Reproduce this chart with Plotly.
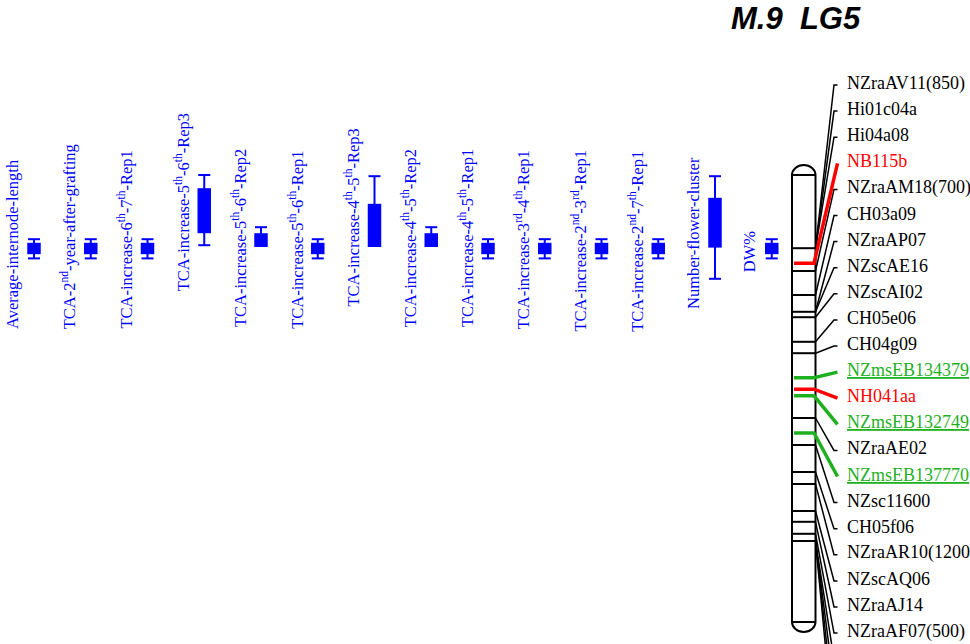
import plotly.graph_objects as go

# ---------------- data ----------------
chart_title = "M.9\u00a0\u00a0LG5"

trait_names = [
    "Average-internode-length",
    "TCA-2<sup>nd</sup>-year-after-grafting",
    "TCA-increase-6<sup>th</sup>-7<sup>th</sup>-Rep1",
    "TCA-increase-5<sup>th</sup>-6<sup>th</sup>-Rep3",
    "TCA-increase-5<sup>th</sup>-6<sup>th</sup>-Rep2",
    "TCA-increase-5<sup>th</sup>-6<sup>th</sup>-Rep1",
    "TCA-increase-4<sup>th</sup>-5<sup>th</sup>-Rep3",
    "TCA-increase-4<sup>th</sup>-5<sup>th</sup>-Rep2",
    "TCA-increase-4<sup>th</sup>-5<sup>th</sup>-Rep1",
    "TCA-increase-3<sup>rd</sup>-4<sup>th</sup>-Rep1",
    "TCA-increase-2<sup>nd</sup>-3<sup>rd</sup>-Rep1",
    "TCA-increase-2<sup>nd</sup>-7<sup>th</sup>-Rep1",
    "Number-flower-cluster",
    "DW%",
]
# QTL intervals (cM): outer = whiskers, inner = filled box
qtl_outer_start = [10.7, 10.7, 10.7, 0.0, 8.7, 10.7, 0.2, 8.7, 10.7, 10.7, 10.7, 10.7, 0.2, 10.7]
qtl_inner_start = [11.3, 11.3, 11.3, 2.2, 9.7, 11.3, 4.8, 9.7, 11.3, 11.3, 11.3, 11.3, 3.8, 11.3]
qtl_inner_end = [13.2, 13.2, 13.2, 9.7, 12.0, 13.2, 12.0, 12.0, 13.2, 13.2, 13.2, 13.2, 12.1, 13.2]
qtl_outer_end = [13.9, 13.9, 13.9, 11.7, 12.0, 13.9, 12.0, 12.0, 13.9, 13.9, 13.9, 13.9, 17.3, 13.9]

marker_names = [
    "NZraAV11(850)", "Hi01c04a", "Hi04a08", "NB115b", "NZraAM18(700)",
    "CH03a09", "NZraAP07", "NZscAE16", "NZscAI02", "CH05e06", "CH04g09",
    "NZmsEB134379", "NH041aa", "NZmsEB132749", "NZraAE02", "NZmsEB137770",
    "NZsc11600", "CH05f06", "NZraAR10(1200)", "NZscAQ06", "NZraAJ14",
    "NZraAF07(500)",
]
marker_cm = [12.2, 12.2, 12.2, 14.7, 16.0, 20.0, 22.8, 22.8, 23.7, 27.8, 29.7,
             33.8, 35.7, 36.8, 40.5, 43.0, 45.0, 49.5, 51.5, 56.0, 57.8, 59.8]
marker_kind = ["plain", "plain", "plain", "red", "plain", "plain", "plain", "plain",
               "plain", "plain", "plain", "green", "red", "green", "plain", "green",
               "plain", "plain", "plain", "plain", "plain", "plain"]
# markers whose labels fall below the visible area (only their connectors show)
offscreen_marker_cm = [61.0, 61.0, 61.0, 61.0]

chrom_length_cm = 74.5

# ---------------- layout / style ----------------
W, H = 970, 644
PX_PER_CM = 6.0
CHROM_TOP_PX = 175.0


def cm_from_px(py):
    return (py - CHROM_TOP_PX) / PX_PER_CM


def dcm(dpx):
    return dpx / PX_PER_CM


BLUE = "#0000ff"
RED = "#ff0000"
GREEN = "#1fb01f"
kind_color = {"plain": "black", "red": RED, "green": GREEN}

CH_L, CH_R = 792.0, 815.5
CAP_PX = 10.0
QTL_X0, QTL_DX = 34.0, 56.75
LABEL_X_OFF = -22.0
trait_label_bottom_px = [330, 330, 330, 292, 328, 330, 308, 328, 328, 330, 333, 333, 310, 273]
LABEL_Y0_PX, LABEL_DY_PX = 85.0, 26.1

shapes = []
annotations = []
traces = []

# ---- chromosome outline ----
cx = (CH_L + CH_R) / 2
rx = (CH_R - CH_L) / 2
k = 0.5523
h = dcm(CAP_PX)
L = chrom_length_cm
path = (
    f"M {CH_L},0 "
    f"C {CH_L},{-k*h} {cx - k*rx},{-h} {cx},{-h} "
    f"C {cx + k*rx},{-h} {CH_R},{-k*h} {CH_R},0 "
    f"L {CH_R},{L} "
    f"C {CH_R},{L + k*h} {cx + k*rx},{L + h} {cx},{L + h} "
    f"C {cx - k*rx},{L + h} {CH_L},{L + k*h} {CH_L},{L} Z"
)
shapes.append(dict(type="path", path=path, xref="x", yref="y",
                   line=dict(color="black", width=2), fillcolor="white", layer="below"))
for yv in (0, L):
    shapes.append(dict(type="line", xref="x", yref="y", x0=CH_L, x1=CH_R, y0=yv, y1=yv,
                       line=dict(color="black", width=2)))

# ---- locus ticks on the chromosome (black) ----
plain_loci = sorted(set([c for c, kd in zip(marker_cm, marker_kind) if kd == "plain"] + offscreen_marker_cm))
for c in plain_loci:
    shapes.append(dict(type="line", xref="x", yref="y", x0=CH_L, x1=CH_R, y0=c, y1=c,
                       line=dict(color="black", width=2)))

# ---- connectors ----
bx, by = [], []
all_cm = marker_cm + offscreen_marker_cm
all_kind = marker_kind + ["plain"] * len(offscreen_marker_cm)
for i, (c, kd) in enumerate(zip(all_cm, all_kind)):
    ly = cm_from_px(LABEL_Y0_PX + LABEL_DY_PX * i)
    if kd == "plain":
        bx += [CH_R, 834.0, 837.5, None]
        by += [c, ly, ly, None]
traces.append(go.Scatter(x=bx, y=by, mode="lines", line=dict(color="black", width=1.5),
                         hoverinfo="skip", showlegend=False))
for i, (c, kd) in enumerate(zip(marker_cm, marker_kind)):
    if kd == "plain":
        continue
    ly = cm_from_px(LABEL_Y0_PX + LABEL_DY_PX * i)
    traces.append(go.Scatter(x=[CH_L + 2, CH_R - 1.5, 837.5], y=[c, c, ly], mode="lines",
                             line=dict(color=kind_color[kd], width=3.5),
                             hoverinfo="skip", showlegend=False))

# ---- marker labels ----
for i, (name, kd) in enumerate(zip(marker_names, marker_kind)):
    ly = cm_from_px(LABEL_Y0_PX + LABEL_DY_PX * i - 2)
    txt = f"<u>{name}</u>" if kd == "green" else name
    annotations.append(dict(x=845, y=ly, xref="x", yref="y", text=txt, showarrow=False,
                            xanchor="left", yanchor="middle",
                            font=dict(family="Liberation Serif", size=18, color=kind_color[kd])))

# ---- QTL bars ----
for j, name in enumerate(trait_names):
    qx = QTL_X0 + QTL_DX * j
    shapes.append(dict(type="line", xref="x", yref="y", x0=qx, x1=qx,
                       y0=qtl_outer_start[j], y1=qtl_outer_end[j],
                       line=dict(color=BLUE, width=2)))
    shapes.append(dict(type="rect", xref="x", yref="y", x0=qx - 6.75, x1=qx + 6.75,
                       y0=qtl_inner_start[j], y1=qtl_inner_end[j],
                       fillcolor=BLUE, line=dict(width=0)))
    if qtl_outer_start[j] < qtl_inner_start[j]:
        shapes.append(dict(type="line", xref="x", yref="y", x0=qx - 6, x1=qx + 6,
                           y0=qtl_outer_start[j], y1=qtl_outer_start[j],
                           line=dict(color=BLUE, width=2)))
    if qtl_outer_end[j] > qtl_inner_end[j]:
        shapes.append(dict(type="line", xref="x", yref="y", x0=qx - 6, x1=qx + 6,
                           y0=qtl_outer_end[j], y1=qtl_outer_end[j],
                           line=dict(color=BLUE, width=2)))
    annotations.append(dict(x=qx + LABEL_X_OFF, y=cm_from_px(trait_label_bottom_px[j] + 1),
                            xref="x", yref="y", text=name, showarrow=False, textangle=-90,
                            xanchor="center", yanchor="bottom",
                            font=dict(family="Liberation Serif", size=16.5, color=BLUE)))

# ---- title ----
annotations.append(dict(x=796, y=cm_from_px(18.5), xref="x", yref="y",
                        text=f"<b><i>{chart_title}</i></b>", showarrow=False,
                        xanchor="center", yanchor="middle",
                        font=dict(family="Liberation Sans", size=31, color="black")))

fig = go.Figure(data=traces)
fig.update_layout(
    width=W, height=H, margin=dict(l=0, r=0, t=0, b=0),
    paper_bgcolor="white", plot_bgcolor="white",
    xaxis=dict(range=[0, W], visible=False, fixedrange=True),
    yaxis=dict(range=[cm_from_px(H), cm_from_px(0)], visible=False, fixedrange=True),
    shapes=shapes, annotations=annotations, showlegend=False,
)
fig.write_html("out.html")
